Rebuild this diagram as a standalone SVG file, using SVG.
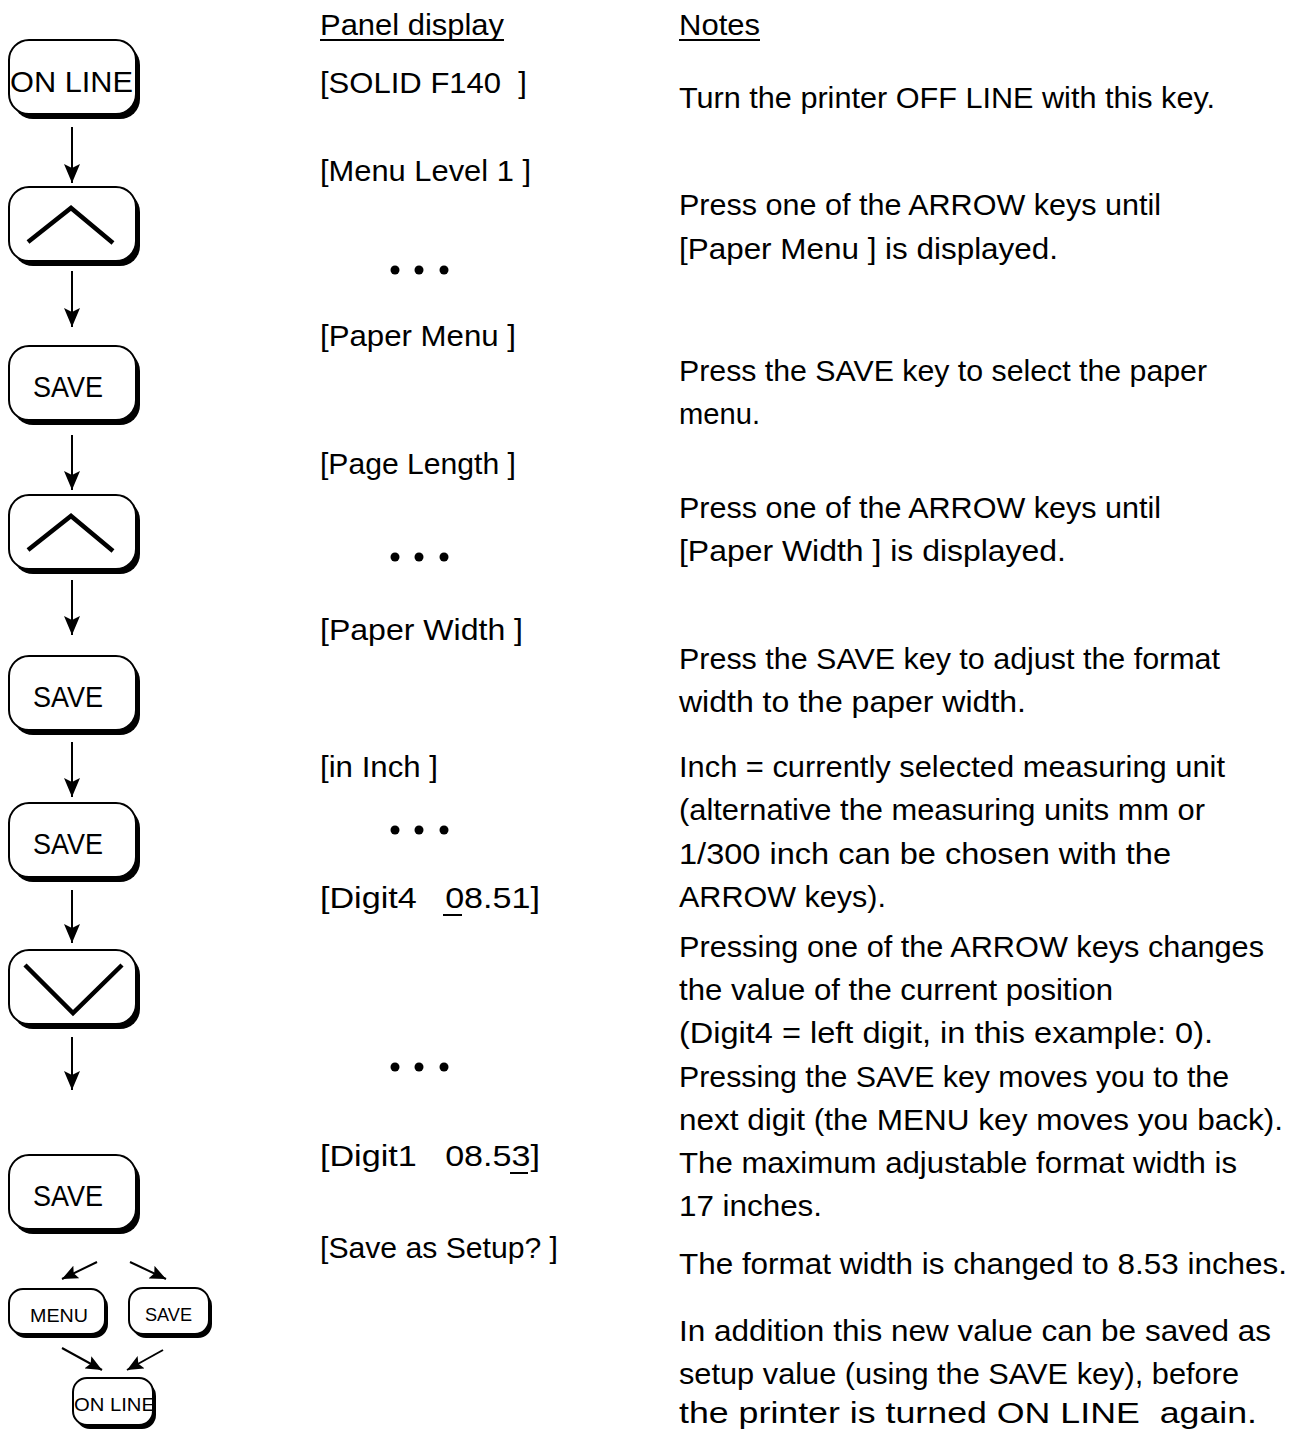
<svg xmlns="http://www.w3.org/2000/svg" width="1305" height="1430" viewBox="0 0 1305 1430">
<defs>
<style>
text{font-family:"Liberation Sans",Arial,sans-serif;fill:#000}
.t{font-size:30px}
.k{font-size:30px;text-anchor:start}
.ks{font-size:19px}
.shadow{fill:#000;stroke:none}
.body{fill:#fff;stroke:#000;stroke-width:2}
.glyph{fill:none;stroke:#000;stroke-width:4.5;stroke-linecap:butt;stroke-linejoin:miter}
.conn{stroke:#000;stroke-width:2;fill:none}
.ul{stroke:#000;stroke-width:2}
</style>
<marker id="ahb" viewBox="0 0 19 16" refX="19" refY="8" markerWidth="19" markerHeight="16" markerUnits="userSpaceOnUse" orient="auto">
<path d="M0,0 L19,8 L0,16 L4,8 Z" fill="#000"/>
</marker>
<marker id="ahs" viewBox="0 0 16 14" refX="16" refY="7" markerWidth="16" markerHeight="14" markerUnits="userSpaceOnUse" orient="auto">
<path d="M0,0 L16,7 L0,14 L3,7 Z" fill="#000"/>
</marker>
</defs>
<rect width="1305" height="1430" fill="#fff"/>

<g id="key-online">
<rect class="shadow" x="13" y="45" width="127" height="74" rx="20"/>
<rect class="body" x="9" y="40" width="127" height="74" rx="20"/>
<text class="k" x="10" y="92" font-size="31" textLength="123" lengthAdjust="spacingAndGlyphs">ON LINE</text>
</g>
<g id="key-up1">
<rect class="shadow" x="13" y="192" width="127" height="74" rx="20"/>
<rect class="body" x="9" y="187" width="127" height="74" rx="20"/>
<polyline class="glyph" points="28,242 71,208 113,243"/>
</g>
<g id="key-save1">
<rect class="shadow" x="13" y="351" width="127" height="74" rx="20"/>
<rect class="body" x="9" y="346" width="127" height="74" rx="20"/>
<text class="k" x="33" y="397" textLength="70" lengthAdjust="spacingAndGlyphs">SAVE</text>
</g>
<g id="key-up2">
<rect class="shadow" x="13" y="500" width="127" height="74" rx="20"/>
<rect class="body" x="9" y="495" width="127" height="74" rx="20"/>
<polyline class="glyph" points="28,550 71,516 113,551"/>
</g>
<g id="key-save2">
<rect class="shadow" x="13" y="661" width="127" height="74" rx="20"/>
<rect class="body" x="9" y="656" width="127" height="74" rx="20"/>
<text class="k" x="33" y="707" textLength="70" lengthAdjust="spacingAndGlyphs">SAVE</text>
</g>
<g id="key-save3">
<rect class="shadow" x="13" y="808" width="127" height="74" rx="20"/>
<rect class="body" x="9" y="803" width="127" height="74" rx="20"/>
<text class="k" x="33" y="854" textLength="70" lengthAdjust="spacingAndGlyphs">SAVE</text>
</g>
<g id="key-down">
<rect class="shadow" x="13" y="955" width="127" height="74" rx="20"/>
<rect class="body" x="9" y="950" width="127" height="74" rx="20"/>
<polyline class="glyph" points="25,965 73,1013 122,965"/>
</g>
<g id="key-save4">
<rect class="shadow" x="13" y="1160" width="127" height="74" rx="20"/>
<rect class="body" x="9" y="1155" width="127" height="74" rx="20"/>
<text class="k" x="33" y="1206" textLength="70" lengthAdjust="spacingAndGlyphs">SAVE</text>
</g>
<g id="key-menu-small">
<rect class="shadow" x="12" y="1293" width="96" height="45" rx="14"/>
<rect class="body" x="9" y="1289" width="96" height="45" rx="14"/>
<text class="ks" x="30" y="1322" textLength="58" lengthAdjust="spacingAndGlyphs">MENU</text>
</g>
<g id="key-save-small">
<rect class="shadow" x="132" y="1292" width="80" height="46" rx="14"/>
<rect class="body" x="129" y="1288" width="80" height="46" rx="14"/>
<text class="ks" x="145" y="1321" textLength="47" lengthAdjust="spacingAndGlyphs">SAVE</text>
</g>
<g id="key-online-small">
<rect class="shadow" x="76" y="1382" width="80" height="47" rx="14"/>
<rect class="body" x="73" y="1378" width="80" height="47" rx="14"/>
<text class="ks" x="74" y="1411" font-size="21" textLength="81" lengthAdjust="spacingAndGlyphs">ON LINE</text>
</g>

<g id="connectors">
<line class="conn" x1="72" y1="127" x2="72" y2="183" marker-end="url(#ahb)"/>
<line class="conn" x1="72" y1="271" x2="72" y2="327" marker-end="url(#ahb)"/>
<line class="conn" x1="72" y1="435" x2="72" y2="490" marker-end="url(#ahb)"/>
<line class="conn" x1="72" y1="580" x2="72" y2="635" marker-end="url(#ahb)"/>
<line class="conn" x1="72" y1="742" x2="72" y2="797" marker-end="url(#ahb)"/>
<line class="conn" x1="72" y1="890" x2="72" y2="943" marker-end="url(#ahb)"/>
<line class="conn" x1="72" y1="1037" x2="72" y2="1090" marker-end="url(#ahb)"/>
<line class="conn" x1="97" y1="1262" x2="62" y2="1279" marker-end="url(#ahs)"/>
<line class="conn" x1="130" y1="1262" x2="166" y2="1279" marker-end="url(#ahs)"/>
<line class="conn" x1="62" y1="1348" x2="102" y2="1370" marker-end="url(#ahs)"/>
<line class="conn" x1="163" y1="1350" x2="127" y2="1370" marker-end="url(#ahs)"/>
</g>

<g id="panel-display">
<text class="t" x="320" y="35" textLength="184" lengthAdjust="spacingAndGlyphs">Panel display</text>
<line class="ul" x1="320" y1="40" x2="504" y2="40"/>
<text class="t" x="320" y="93" textLength="207" lengthAdjust="spacingAndGlyphs" xml:space="preserve">[SOLID F140  ]</text>
<text class="t" x="320" y="181" textLength="211" lengthAdjust="spacingAndGlyphs">[Menu Level 1 ]</text>
<circle cx="395" cy="270" r="4.5"/><circle cx="419" cy="270" r="4.5"/><circle cx="444" cy="270" r="4.5"/>
<text class="t" x="320" y="346" textLength="196" lengthAdjust="spacingAndGlyphs">[Paper Menu ]</text>
<text class="t" x="320" y="474" textLength="196" lengthAdjust="spacingAndGlyphs">[Page Length ]</text>
<circle cx="395" cy="557" r="4.5"/><circle cx="419" cy="557" r="4.5"/><circle cx="444" cy="557" r="4.5"/>
<text class="t" x="320" y="640" textLength="203" lengthAdjust="spacingAndGlyphs">[Paper Width ]</text>
<text class="t" x="320" y="777" textLength="118" lengthAdjust="spacingAndGlyphs">[in Inch ]</text>
<circle cx="395" cy="830" r="4.5"/><circle cx="419" cy="830" r="4.5"/><circle cx="444" cy="830" r="4.5"/>
<text class="t" x="320" y="908" textLength="220" lengthAdjust="spacingAndGlyphs" xml:space="preserve">[Digit4   08.51]</text>
<line class="ul" x1="443" y1="915" x2="462" y2="915"/>
<circle cx="395" cy="1067" r="4.5"/><circle cx="419" cy="1067" r="4.5"/><circle cx="444" cy="1067" r="4.5"/>
<text class="t" x="320" y="1166" textLength="220" lengthAdjust="spacingAndGlyphs" xml:space="preserve">[Digit1   08.53]</text>
<line class="ul" x1="510" y1="1173" x2="528" y2="1173"/>
<text class="t" x="320" y="1258" textLength="238" lengthAdjust="spacingAndGlyphs">[Save as Setup? ]</text>
</g>

<g id="notes">
<text class="t" x="679" y="35" textLength="81" lengthAdjust="spacingAndGlyphs">Notes</text>
<line class="ul" x1="679" y1="40" x2="760" y2="40"/>
<text class="t" x="679" y="108" textLength="536" lengthAdjust="spacingAndGlyphs">Turn the printer OFF LINE with this key.</text>
<text class="t" x="679" y="215" textLength="482" lengthAdjust="spacingAndGlyphs">Press one of the ARROW keys until</text>
<text class="t" x="679" y="259" textLength="379" lengthAdjust="spacingAndGlyphs">[Paper Menu ] is displayed.</text>
<text class="t" x="679" y="381" textLength="528" lengthAdjust="spacingAndGlyphs">Press the SAVE key to select the paper</text>
<text class="t" x="679" y="424" textLength="81" lengthAdjust="spacingAndGlyphs">menu.</text>
<text class="t" x="679" y="518" textLength="482" lengthAdjust="spacingAndGlyphs">Press one of the ARROW keys until</text>
<text class="t" x="679" y="561" textLength="387" lengthAdjust="spacingAndGlyphs">[Paper Width ] is displayed.</text>
<text class="t" x="679" y="669" textLength="541" lengthAdjust="spacingAndGlyphs">Press the SAVE key to adjust the format</text>
<text class="t" x="679" y="712" textLength="347" lengthAdjust="spacingAndGlyphs">width to the paper width.</text>
<text class="t" x="679" y="777" textLength="546" lengthAdjust="spacingAndGlyphs">Inch = currently selected measuring unit</text>
<text class="t" x="679" y="820" textLength="526" lengthAdjust="spacingAndGlyphs">(alternative the measuring units mm or</text>
<text class="t" x="679" y="864" textLength="492" lengthAdjust="spacingAndGlyphs">1/300 inch can be chosen with the</text>
<text class="t" x="679" y="907" textLength="207" lengthAdjust="spacingAndGlyphs">ARROW keys).</text>
<text class="t" x="679" y="957" textLength="585" lengthAdjust="spacingAndGlyphs">Pressing one of the ARROW keys changes</text>
<text class="t" x="679" y="1000" textLength="434" lengthAdjust="spacingAndGlyphs">the value of the current position</text>
<text class="t" x="679" y="1043" textLength="534" lengthAdjust="spacingAndGlyphs">(Digit4 = left digit, in this example: 0).</text>
<text class="t" x="679" y="1087" textLength="550" lengthAdjust="spacingAndGlyphs">Pressing the SAVE key moves you to the</text>
<text class="t" x="679" y="1130" textLength="604" lengthAdjust="spacingAndGlyphs">next digit (the MENU key moves you back).</text>
<text class="t" x="679" y="1173" textLength="558" lengthAdjust="spacingAndGlyphs">The maximum adjustable format width is</text>
<text class="t" x="679" y="1216" textLength="143" lengthAdjust="spacingAndGlyphs">17 inches.</text>
<text class="t" x="679" y="1274" textLength="608" lengthAdjust="spacingAndGlyphs">The format width is changed to 8.53 inches.</text>
<text class="t" x="679" y="1341" textLength="592" lengthAdjust="spacingAndGlyphs">In addition this new value can be saved as</text>
<text class="t" x="679" y="1384" textLength="560" lengthAdjust="spacingAndGlyphs">setup value (using the SAVE key), before</text>
<text class="t" x="679" y="1423" textLength="578" lengthAdjust="spacingAndGlyphs" xml:space="preserve">the printer is turned ON LINE  again.</text>
</g>
</svg>
